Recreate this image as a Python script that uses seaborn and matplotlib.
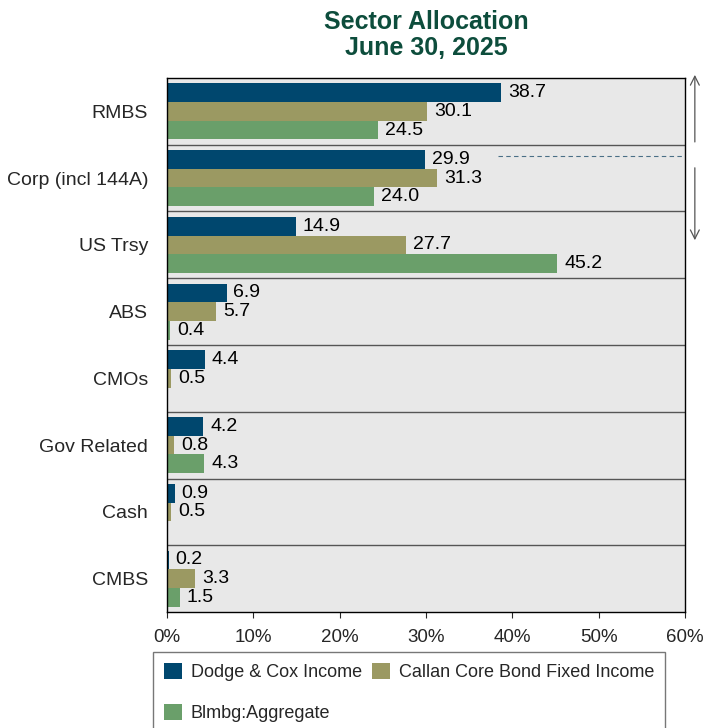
import numpy as np
import pandas as pd
import matplotlib
matplotlib.use("Agg")
import matplotlib.pyplot as plt
import seaborn as sns

sectors = ["RMBS", "Corp (incl 144A)", "US Trsy", "ABS", "CMOs", "Gov Related", "Cash", "CMBS"]
series = ["Dodge & Cox Income", "Callan Core Bond Fixed Income", "Blmbg:Aggregate"]
dodge_cox = [38.7, 29.9, 14.9, 6.9, 4.4, 4.2, 0.9, 0.2]
callan = [30.1, 31.3, 27.7, 5.7, 0.5, 0.8, 0.5, 3.3]
blmbg = [24.5, 24.0, 45.2, 0.4, np.nan, 4.3, np.nan, 1.5]
colors = ["#00476E", "#9B9962", "#6A9F6A"]
x_ticks = [0, 10, 20, 30, 40, 50, 60]


def main():
    df = pd.DataFrame({"Sector": sectors, series[0]: dodge_cox,
                       series[1]: callan, series[2]: blmbg})
    long = df.melt(id_vars="Sector", var_name="Series", value_name="Value")
    long["Value"] = long["Value"].fillna(0)

    sns.set_style("white")
    plt.rcParams["font.family"] = ["Liberation Sans", "DejaVu Sans"]

    fig = plt.figure(figsize=(7.03, 7.28), dpi=100)
    ax = fig.add_axes([0.2375, 0.1593, 0.7369, 0.7336])
    ax.set_facecolor("#E8E8E8")

    sns.barplot(data=long, x="Value", y="Sector", hue="Series", order=sectors,
                hue_order=series, palette=colors, orient="h", width=0.84,
                saturation=1, ax=ax, legend=True, errorbar=None, linewidth=0)

    for cont, vals in zip(ax.containers, [dodge_cox, callan, blmbg]):
        labels = ["" if np.isnan(v) else f"{v:.1f}" for v in vals]
        ax.bar_label(cont, labels=labels, padding=5, fontsize=14, color="black")

    # group separators
    for i in range(len(sectors) - 1):
        ax.axhline(i + 0.5, color="#555555", lw=1)

    ax.set_xlim(0, 60)
    ax.set_ylim(len(sectors) - 0.5, -0.5)
    ax.set_xticks(x_ticks)
    ax.set_xticklabels([f"{t}%" for t in x_ticks], fontsize=13.5)
    ax.tick_params(axis="y", labelsize=14, length=0, pad=13.5)
    ax.tick_params(axis="x", length=4, direction="out", bottom=True, pad=8)
    ax.set_xlabel("")
    ax.set_ylabel("")
    for s in ax.spines.values():
        s.set_color("black")
        s.set_linewidth(1)

    # dashed marker line and arrows on the right
    ax.plot([38.3, 60], [0.67, 0.67], ls=(0, (4, 3)), color="#4A6F86", lw=0.8, clip_on=False)
    ax.annotate("", xy=(1.019, 1.011), xytext=(1.019, 0.875), xycoords="axes fraction",
                arrowprops=dict(arrowstyle="->", color="#555555", lw=0.9, mutation_scale=16))
    ax.annotate("", xy=(1.019, 0.691), xytext=(1.019, 0.837), xycoords="axes fraction",
                arrowprops=dict(arrowstyle="->", color="#555555", lw=0.9, mutation_scale=16))

    handles, labs = ax.get_legend_handles_labels()
    order = [0, 2, 1]
    ax.legend([handles[i] for i in order], [labs[i] for i in order],
              loc="upper left", bbox_to_anchor=(-0.027, -0.075), ncol=2,
              fontsize=13, frameon=True, fancybox=False, edgecolor="#555555",
              handlelength=1.0, handleheight=1.0, handletextpad=0.5,
              columnspacing=0.55, borderpad=0.6, labelspacing=1.25,
              borderaxespad=0)

    fig.text(0.607, 0.986, "Sector Allocation\nJune 30, 2025", ha="center", va="top",
             fontsize=18, fontweight="bold", color="#0D4D3C", linespacing=1.12)

    fig.savefig("out.png", dpi=100)


if __name__ == "__main__":
    main()
